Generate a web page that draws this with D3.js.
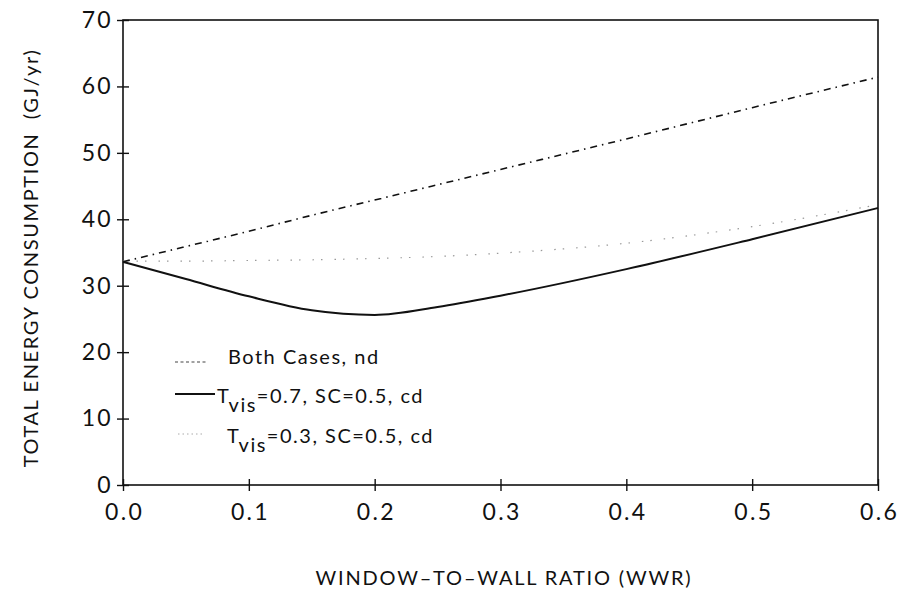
<!DOCTYPE html>
<html><head><meta charset="utf-8">
<script src="https://cdn.jsdelivr.net/npm/d3@7"></script>
<style>
body{margin:0;background:#fff;}
svg{display:block;font-family:Lato,"Liberation Sans",sans-serif;font-weight:400;}
</style></head>
<body><svg id="c" width="899" height="594"></svg>
<script>
const wwr = [0.0, 0.05, 0.1, 0.15, 0.2, 0.25, 0.3, 0.4, 0.5, 0.6];
const bothNd = [33.6, 35.9, 38.2, 40.6, 42.9, 45.2, 47.5, 52.1, 56.8, 61.4];
const tvis07 = [33.6, 31.0, 28.4, 26.3, 25.6, 26.8, 28.5, 32.5, 37.0, 41.7];
const tvis03 = [33.7, 33.7, 33.8, 33.9, 34.1, 34.4, 34.9, 36.4, 38.9, 42.2];
const xTicks = [0, 0.1, 0.2, 0.3, 0.4, 0.5, 0.6];
const yTicks = [0, 10, 20, 30, 40, 50, 60, 70];
const legendLabels = [
  {main:"Both Cases, nd"},
  {pre:"T", sub:"vis", post:"=0.7, SC=0.5, cd"},
  {pre:"T", sub:"vis", post:"=0.3, SC=0.5, cd"}
];

const svg = d3.select("#c");
const x = d3.scaleLinear().domain([0, 0.6]).range([123, 878]);
const y = d3.scaleLinear().domain([0, 70]).range([485, 20]);
const FONT = "Lato,'Liberation Sans',sans-serif";

// frame
svg.append("rect").attr("x",123).attr("y",20).attr("width",755).attr("height",465)
  .attr("fill","none").attr("stroke","#111").attr("stroke-width",1.6);

const xAx = svg.append("g").attr("transform","translate(0,485)")
  .call(d3.axisBottom(x).tickValues(xTicks).tickFormat(d3.format(".1f")).tickSize(6).tickSizeOuter(0));
xAx.select(".domain").remove();
xAx.selectAll(".tick line").attr("y1",-6).attr("y2",6).attr("stroke","#111").attr("stroke-width",1.4);
xAx.selectAll(".tick text").attr("y",19).attr("dy","0.71em").attr("font-size",23).attr("fill","#111")
  .attr("letter-spacing",2.3).attr("dx",1.1).attr("font-family",FONT).attr("font-weight",400);

const yAx = svg.append("g").attr("transform","translate(123,0)")
  .call(d3.axisLeft(y).tickValues(yTicks).tickSize(6).tickSizeOuter(0));
yAx.select(".domain").remove();
yAx.selectAll(".tick line").attr("x1",-6).attr("x2",6).attr("stroke","#111").attr("stroke-width",1.4);
yAx.selectAll(".tick text").attr("x",-10).attr("font-size",23).attr("fill","#111")
  .attr("letter-spacing",2.3).attr("font-family",FONT).attr("font-weight",400);

const line = d3.line().x(d=>x(d[0])).y(d=>y(d[1])).curve(d3.curveMonotoneX);
svg.append("path").datum(wwr.map((w,i)=>[w,tvis03[i]])).attr("d",line)
  .attr("fill","none").attr("stroke","#999").attr("stroke-width",1.2).attr("stroke-dasharray","1.5 12 1.5 7");
svg.append("path").datum(wwr.map((w,i)=>[w,bothNd[i]])).attr("d",line)
  .attr("fill","none").attr("stroke","#111").attr("stroke-width",1.6).attr("stroke-dasharray","7 5 1.5 5");
svg.append("path").datum(wwr.map((w,i)=>[w,tvis07[i]])).attr("d",line)
  .attr("fill","none").attr("stroke","#111").attr("stroke-width",2);

// legend
const lg = svg.append("g");
const rows = [364, 403, 443];
lg.append("line").attr("x1",175).attr("x2",207).attr("y1",rows[0]-2).attr("y2",rows[0]-2)
  .attr("stroke","#444").attr("stroke-width",1.1).attr("stroke-dasharray","3 2.5");
lg.append("line").attr("x1",175).attr("x2",215).attr("y1",rows[1]-9).attr("y2",rows[1]-9)
  .attr("stroke","#111").attr("stroke-width",2);
lg.append("line").attr("x1",178).attr("x2",203).attr("y1",rows[2]-9).attr("y2",rows[2]-9)
  .attr("stroke","#aaa").attr("stroke-width",1).attr("stroke-dasharray","1.5 3");
const tx = [228, 217, 227];
legendLabels.forEach((l,i)=>{
  const t = lg.append("text").attr("x",tx[i]).attr("y",rows[i]).attr("font-size",20)
    .attr("letter-spacing",1.5).attr("fill","#111");
  if(l.main){ t.text(l.main); }
  else {
    t.append("tspan").text(l.pre);
    t.append("tspan").attr("dy",9).text(l.sub);
    t.append("tspan").attr("dy",-9).text(l.post);
  }
});

// axis titles
svg.append("text").attr("x",504).attr("y",585).attr("text-anchor","middle")
  .attr("font-size",20).attr("letter-spacing",1.8).attr("fill","#111").text("WINDOW\u2013TO\u2013WALL RATIO (WWR)");
svg.append("text").attr("transform","translate(38,258) rotate(-90)").attr("text-anchor","middle")
  .attr("font-size",20).attr("letter-spacing",1.6).attr("fill","#111").style("white-space","pre")
  .text("TOTAL ENERGY CONSUMPTION  (GJ/yr)");
</script></body></html>
